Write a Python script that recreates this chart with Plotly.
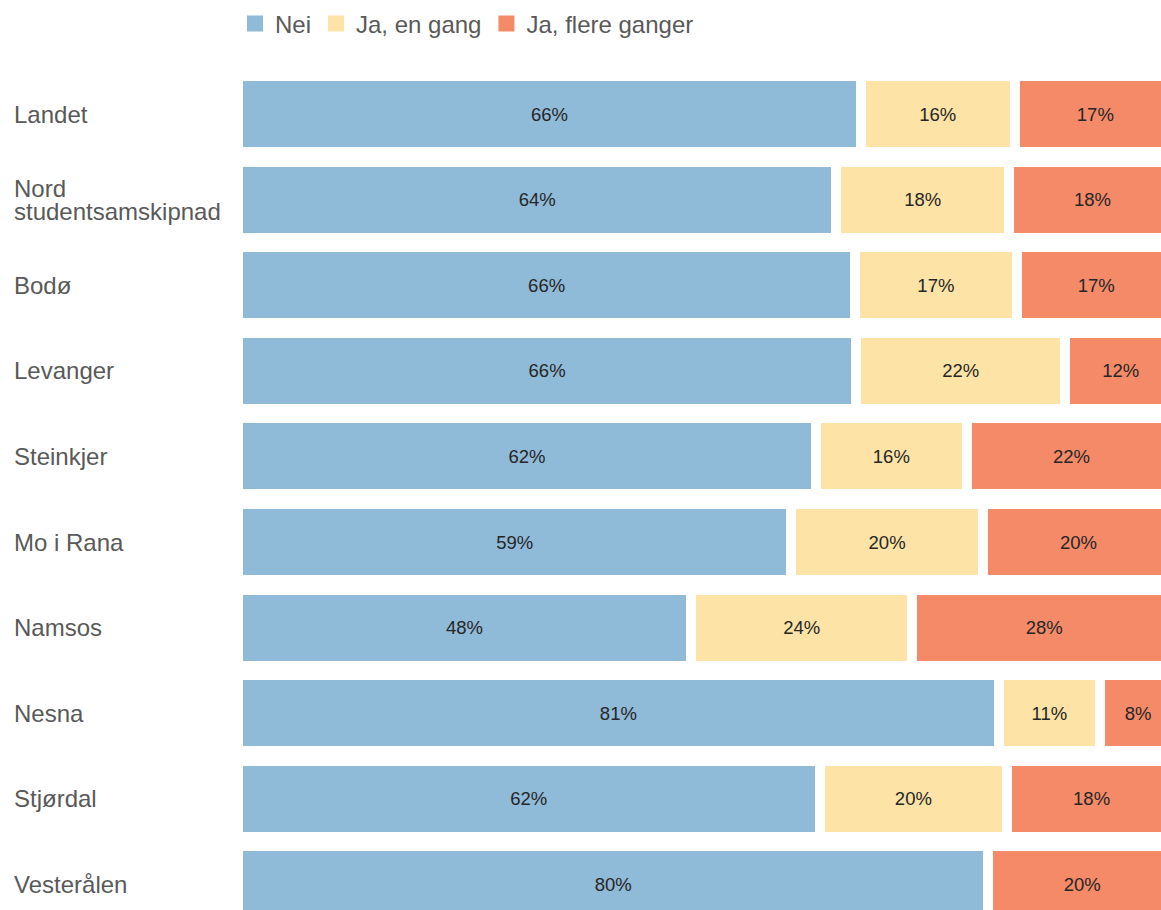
import plotly.graph_objects as go

categories = ["Landet", "Nord<br>studentsamskipnad", "Bodø", "Levanger", "Steinkjer",
              "Mo i Rana", "Namsos", "Nesna", "Stjørdal", "Vesterålen"]
nei = [66.4, 63.8, 65.8, 65.9, 61.6, 59.0, 48.3, 81.1, 62.0, 80.0]
ja_en_gang = [16.4, 18.4, 17.2, 22.3, 16.1, 20.4, 23.6, 10.8, 20.0, None]
ja_flere = [17.2, 17.8, 17.0, 11.8, 22.3, 20.4, 28.1, 8.1, 18.0, 20.0]

series = [("Nei", nei, "#8FBAD8"),
          ("Ja, en gang", ja_en_gang, "#FDE3A5"),
          ("Ja, flere ganger", ja_flere, "#F48A68")]

FONT = "Arial, 'Liberation Sans', sans-serif"
fig = go.Figure()
for name, vals, color in series:
    fig.add_trace(go.Bar(
        y=categories, x=vals, orientation="h", name=name,
        marker=dict(color=color, line=dict(color="white", width=10)),
        texttemplate="%{x:.0f}%", textposition="inside", insidetextanchor="middle",
        textfont=dict(family=FONT, size=18.5, color="#262626"),
        showlegend=False, hoverinfo="skip",
    ))
for name, vals, color in series:
    # legend entry
    fig.add_trace(go.Scatter(
        x=[None], y=[None], mode="markers", name=name,
        marker=dict(symbol="square", size=16, color=color),
        showlegend=True,
    ))

# left-aligned category labels
for cat in categories:
    lines = cat.split("<br>")
    n = len(lines)
    for j, line in enumerate(lines):
        fig.add_annotation(
            xref="paper", yref="y", x=-0.2449, y=cat, text=line,
            xanchor="left", yanchor="middle", showarrow=False,
            yshift=((n - 1) / 2 - j) * 23,
            font=dict(family=FONT, size=24, color="#595959"),
        )

fig.update_layout(
    width=1161, height=910,
    margin=dict(l=238, r=0, t=70, b=0, autoexpand=False),
    barmode="stack", bargap=0.112,
    paper_bgcolor="white", plot_bgcolor="white",
    uniformtext=dict(mode="show", minsize=10),
    legend=dict(orientation="h", traceorder="normal",
                x=-0.00325, y=1.0548, xanchor="left", yanchor="middle",
                font=dict(family=FONT, size=24, color="#595959"),
                bgcolor="rgba(0,0,0,0)", itemclick=False),
    xaxis=dict(range=[0, 98.4], visible=False, showgrid=False, zeroline=False),
    yaxis=dict(type="category", categoryorder="array", categoryarray=categories,
               range=[9.299, -0.514], showticklabels=False, showgrid=False,
               zeroline=False, showline=False, ticks=""),
)

fig.write_html(
    "out.html",
    config={"displayModeBar": False},
    post_script="document.body.style.margin='0';document.body.style.overflow='hidden';",
)
